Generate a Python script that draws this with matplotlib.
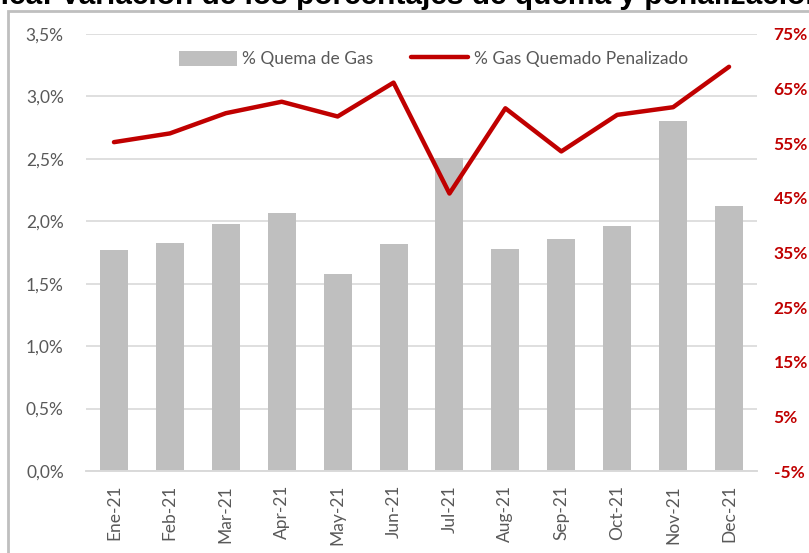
import numpy as np
import matplotlib.pyplot as plt
from matplotlib.patches import Rectangle
from matplotlib.ticker import FuncFormatter

# Datos mensuales 2021
meses = ["Ene-21", "Feb-21", "Mar-21", "Apr-21", "May-21", "Jun-21",
         "Jul-21", "Aug-21", "Sep-21", "Oct-21", "Nov-21", "Dec-21"]
quema_gas = [1.77, 1.83, 1.98, 2.07, 1.58, 1.82, 2.51, 1.78, 1.86, 1.96, 2.80, 2.12]
gas_penalizado = [55.2, 56.8, 60.5, 62.6, 59.9, 66.1, 45.8, 61.4, 53.5, 60.2, 61.6, 69.0]

titulo = "Gráfica: Variación de los porcentajes de quema y penalización"

gris_barra = "#BFBFBF"
rojo = "#C00000"
gris_texto = "#595959"

plt.rcParams['font.family'] = ['Lato', 'DejaVu Sans']

W, H = 809, 553
fig = plt.figure(figsize=(W / 100, H / 100), dpi=100)
ax = fig.add_axes([86 / W, (H - 471) / H, (757 - 86) / W, (471 - 34) / H])
ax2 = ax.twinx()

x = np.arange(len(meses))
ax.bar(x, quema_gas, width=0.5, color=gris_barra, label="% Quema de Gas", zorder=2)
ax2.plot(x, gas_penalizado, color=rojo, lw=3.2, solid_capstyle='round',
         label="% Gas Quemado Penalizado", zorder=3)

# Eje izquierdo
ax.set_xlim(-0.5, len(meses) - 0.5)
ax.set_ylim(0, 3.5)
ax.set_yticks(np.arange(0, 3.51, 0.5))
ax.yaxis.set_major_formatter(FuncFormatter(lambda v, p: f"{v:.1f}%".replace(".", ",")))
ax.tick_params(axis='y', length=0, pad=16, labelsize=12.5, labelcolor=gris_texto)
ax.set_xticks(x)
ax.set_xticklabels(meses, rotation=90)
ax.tick_params(axis='x', length=0, pad=10, labelsize=12.5, labelcolor=gris_texto)
ax.grid(axis='y', color="#D9D9D9", lw=1.2, zorder=0)
ax.set_axisbelow(True)

# Eje derecho
ax2.set_ylim(-5, 75)
ax2.set_yticks(np.arange(-5, 76, 10))
ax2.yaxis.set_major_formatter(FuncFormatter(lambda v, p: f"{v:.0f}%"))
ax2.tick_params(axis='y', length=0, pad=12, labelsize=12.5, labelcolor=rojo)
for lbl in ax2.get_yticklabels():
    lbl.set_fontweight('bold')

for a in (ax, ax2):
    for s in ['top', 'left', 'right']:
        a.spines[s].set_visible(False)
    a.spines['bottom'].set_color("#D9D9D9")
    a.spines['bottom'].set_linewidth(1.2)

# Leyenda
h1, l1 = ax.get_legend_handles_labels()
h2, l2 = ax2.get_legend_handles_labels()
ax2.legend(h1 + h2, l1 + l2, loc='center', bbox_to_anchor=(0.518, 0.943),
           ncol=2, frameon=False, fontsize=12.5, labelcolor=gris_texto,
           handlelength=3.3, handleheight=1.0, columnspacing=2.2, handletextpad=0.3)

# Marco del gráfico
fig.patches.append(Rectangle((8 / W, -0.1), 1.0, (H - 11) / H + 0.1,
                             transform=fig.transFigure, fill=False,
                             edgecolor="#BFBFBF", lw=2))

fig.text(-61 / W, (H - 4) / H, titulo, fontsize=21.5, fontweight='bold',
         family=['Liberation Sans', 'DejaVu Sans'], va='baseline', ha='left')

fig.savefig("out.png", dpi=100)
